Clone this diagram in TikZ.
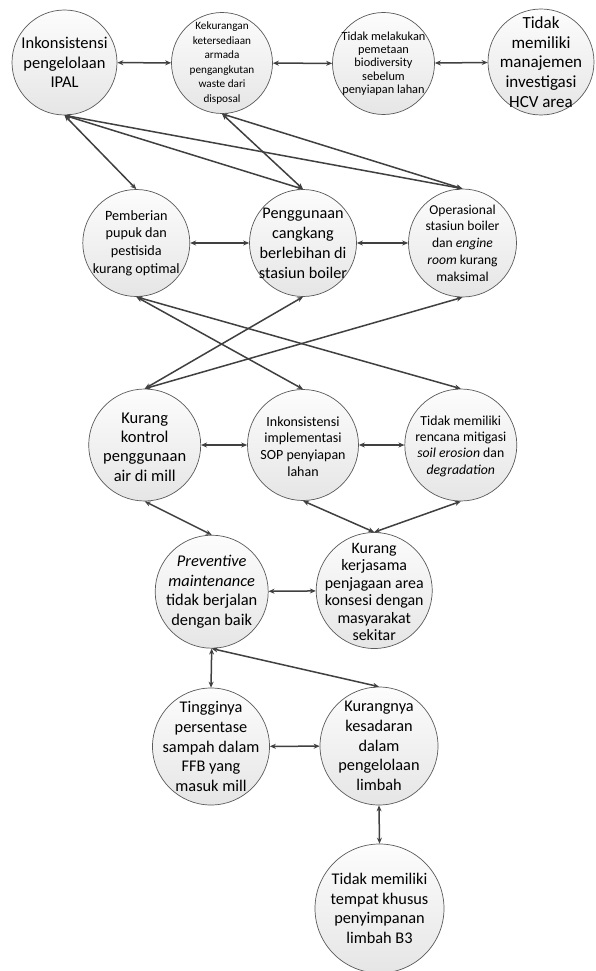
\documentclass[tikz,border=0pt]{standalone}
\usepackage{fontspec}
\setmainfont{Carlito}
\usetikzlibrary{arrows.meta,calc}
\definecolor{linec}{HTML}{404040}
\definecolor{circd}{HTML}{5A5A5A}
\begin{document}
\begin{tikzpicture}[x=1pt,y=-1pt,
 circ/.style={circle, draw=circd, line width=0.7pt, top color=white!99!black, bottom color=white!90!black, inner sep=0pt, minimum size=#1},
 txt/.style={align=center, inner sep=0pt, font=\fontsize{16.3}{19.6}\selectfont},
 conn/.style={draw=linec, line width=1.5pt, {Stealth[length=6pt,width=5pt]}-{Stealth[length=6pt,width=5pt]}}]
\useasboundingbox[fill=white] (0,0) rectangle (595,971);
% circles
\node[circ=105] (A) at (64.5,62.5) {};
\node[circ=101] (B) at (222,63) {};
\node[circ=102] (C) at (383.5,63.5) {};
\node[circ=106] (D) at (541,62) {};
\node[circ=107] (E) at (136.3,243) {};
\node[circ=107] (F) at (303,243) {};
\node[circ=108] (G) at (462.5,243) {};
\node[circ=112] (H) at (144.7,445) {};
\node[circ=111] (I) at (303,445) {};
\node[circ=112] (J) at (460.8,445) {};
\node[circ=113] (K) at (211.7,591.7) {};
\node[circ=116] (L) at (374.2,590.5) {};
\node[circ=117] (M) at (211,746.5) {};
\node[circ=118] (N) at (379,746) {};
\node[circ=129] (O) at (379.5,908.5) {};
% texts
\node[txt, font=\fontsize{16.5}{19.5}\selectfont] (At) at (A) {Inkonsistensi\\pengelolaan\\IPAL};
\node[txt, font=\fontsize{11.2}{14.5}\selectfont] (Bt) at (B) {Kekurangan\\ketersediaan\\armada\\pengangkutan\\waste dari\\disposal};
\node[txt, font=\fontsize{12.3}{13.3}\selectfont] (Ct) at (C) {Tidak melakukan\\pemetaan\\biodiversity\\sebelum\\penyiapan lahan};
\node[txt, font=\fontsize{17}{19.7}\selectfont] (Dt) at (D) {Tidak\\memiliki\\manajemen\\investigasi\\HCV area};
\node[txt, font=\fontsize{14.2}{17.8}\selectfont] (Et) at (E) {Pemberian\\pupuk dan\\pestisida\\kurang optimal};
\node[txt, font=\fontsize{16.2}{20}\selectfont] (Ft) at (F) {Penggunaan\\cangkang\\berlebihan di\\stasiun boiler};
\node[txt, font=\fontsize{13.6}{16.8}\selectfont] (Gt) at (G) {Operasional\\stasiun boiler\\dan \textit{engine}\\\textit{room} kurang\\maksimal};
\node[txt, font=\fontsize{16.5}{19.4}\selectfont] (Ht) at ($(H)+(0,2)$) {Kurang\\kontrol\\penggunaan\\air di mill};
\node[txt, font=\fontsize{14}{16.7}\selectfont] (It) at ($(I)+(0,1.5)$) {Inkonsistensi\\implementasi\\SOP penyiapan\\lahan};
\node[txt, font=\fontsize{13.75}{16.3}\selectfont] (Jt) at ($(J)+(0,1)$) {Tidak memiliki\\rencana mitigasi\\\textit{soil erosion} dan\\\textit{degradation}};
\node[txt, font=\fontsize{16.4}{19.7}\selectfont] (Kt) at (K) {\textit{Preventive}\\\textit{maintenance}\\tidak berjalan\\dengan baik};
\node[txt, font=\fontsize{15.9}{17.5}\selectfont] (Lt) at ($(L)+(0,1.5)$) {Kurang\\kerjasama\\penjagaan area\\konsesi dengan\\masyarakat\\sekitar};
\node[txt] (Mt) at (M) {Tingginya\\persentase\\sampah dalam\\FFB yang\\masuk mill};
\node[txt] (Nt) at (N) {Kurangnya\\kesadaran\\dalam\\pengelolaan\\limbah};
\node[txt] (Ot) at (O) {Tidak memiliki\\tempat khusus\\penyimpanan\\limbah B3};
% connectors
\draw[conn] (A) -- (B);
\draw[conn] (B) -- (C);
\draw[conn] (C) -- (D);
\draw[conn] (A.south) -- (E.north);
\draw[conn] (A.south) -- (F.north);
\draw[conn] (A.south) -- (G.north);
\draw[conn] (B.south) -- (F.north);
\draw[conn] (B.south) -- (G.north);
\draw[conn] (E) -- (F);
\draw[conn] (F) -- (G);
\draw[conn] (E.south) -- (I.north);
\draw[conn] (E.south) -- (J.north);
\draw[conn] (F.south) -- (H.north);
\draw[conn] (G.south) -- (H.north);
\draw[conn] (H) -- (I);
\draw[conn] (I) -- (J);
\draw[conn] (H.south) -- (K.north);
\draw[conn] (I.south) -- (L.north);
\draw[conn] (J.south) -- (L.north);
\draw[conn] (K) -- (L);
\draw[conn] (K.south) -- (M.north);
\draw[conn] (K.south) -- (N.north);
\draw[conn] (M) -- (N);
\draw[conn] (N.south) -- (O.north);
\end{tikzpicture}
\end{document}
